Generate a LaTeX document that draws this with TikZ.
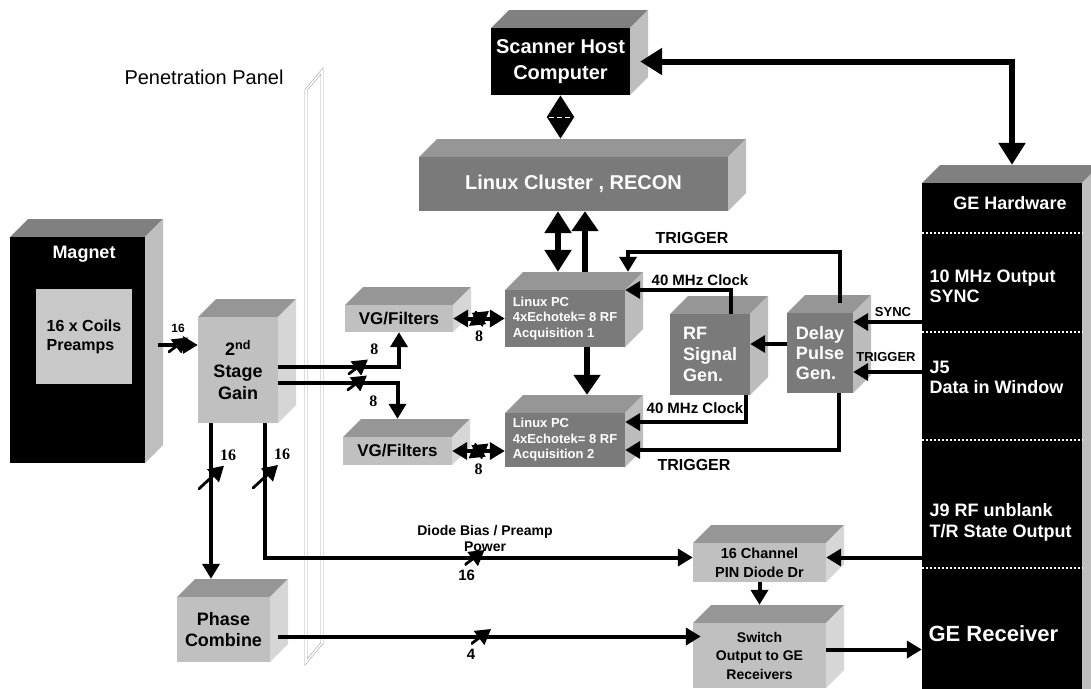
\documentclass[tikz,border=0pt]{standalone}
\usepackage{fontspec}
\setmainfont{Liberation Sans}
\newfontfamily\serf{Liberation Serif}
\usetikzlibrary{arrows.meta}
\definecolor{dkfront}{RGB}{122,122,122}
\definecolor{dktop}{RGB}{150,150,150}
\definecolor{dkside}{RGB}{188,188,188}
\definecolor{ltfront}{RGB}{192,192,192}
\definecolor{lttop}{RGB}{150,150,150}
\definecolor{ltside}{RGB}{214,214,214}
\definecolor{bkfront}{RGB}{0,0,0}
\definecolor{bktop}{RGB}{128,128,128}
\definecolor{bkside}{RGB}{190,190,190}
\definecolor{coilgray}{RGB}{200,200,200}
\newcommand{\fs}[2]{\fontsize{#1}{#2}\selectfont\bfseries}
% 3d block: name, x1, y1, x2, y2, colour set, node options, text
\newcommand{\blok}[8]{%
  \fill[#6top] (#2,#3) -- (#2+18,#3-18) -- (#4+18,#3-18) -- (#4,#3) -- cycle;
  \fill[#6side] (#4,#3) -- (#4+18,#3-18) -- (#4+18,#5-18) -- (#4,#5) -- cycle;
  \node[fill=#6front, inner sep=0pt, minimum width=#4-#2, minimum height=#5-#3, #7] (#1) at ({(#2+#4)/2},{(#3+#5)/2}) {#8};}
\tikzset{
  arr/.style={line width=4pt, -{Triangle[length=15pt,width=17pt]}},
  arrs/.style={line width=4pt, {Triangle[length=15pt,width=17pt]}-{Triangle[length=15pt,width=17pt]}},
  big/.style={line width=6pt, -{Triangle[length=20pt,width=26pt]}},
  bigs/.style={line width=6pt, {Triangle[length=22pt,width=26pt]}-{Triangle[length=22pt,width=26pt]}},
  bus/.style={inner sep=0pt, minimum width=20pt, minimum height=15pt,
    path picture={\draw[line width=2.8pt] (path picture bounding box.south west) -- (path picture bounding box.north east);}},
  busv/.style={bus, minimum width=26pt, minimum height=24pt},
  num/.style={font=\serf\bfseries\fontsize{16}{16}\selectfont, inner sep=1pt},
  snum/.style={font=\fs{15}{15}, inner sep=1pt},
  dots/.style={white, line width=1.5pt, dash pattern=on 2pt off 2pt},
  panel/.style={draw=gray!70, line width=0.6pt, double=white, double distance=1.6pt}
}
\begin{document}
\begin{tikzpicture}[x=1pt, y=-1pt, line join=miter]
\useasboundingbox (0,0) rectangle (1091,688);
\fill[white] (0,0) rectangle (1091,688);
\clip (0,0) rectangle (1091,688);
% penetration panel
\node[font=\fontsize{20}{22}\selectfont] (pen) at (204,77) {Penetration Panel};
\draw[panel] (302,107) -- (302,662);
\draw[panel] (306,90) -- (306,662) -- (322,643) -- (322,71) -- cycle;
% blocks
\blok{scan}{491}{28}{630}{95}{bk}{text=white, font=\fs{20}{26}, align=center}{Scanner Host\\Computer}
\blok{clus}{419}{157}{728}{211}{dk}{text=white, font=\fs{20}{22}}{Linux Cluster , RECON}
\blok{ge}{922}{183}{1082}{700}{bk}{}{}
\blok{mag}{10}{237}{145}{463}{bk}{}{}
\blok{gain}{198}{317}{278}{423}{lt}{font=\fs{18}{22}, align=center}{2\textsuperscript{nd}\\Stage\\Gain}
\blok{vg1}{345}{305}{453}{332}{lt}{font=\fs{17}{19}}{VG/Filters}
\blok{vg2}{343}{437}{452}{465}{lt}{font=\fs{17}{19}}{VG/Filters}
\blok{pc1}{505}{290}{625}{347}{dk}{text=white, font=\fs{13}{15.5}, align=left}{Linux PC\\4xEchotek= 8 RF\\Acquisition 1}
\blok{pc2}{505}{413}{625}{467}{dk}{text=white, font=\fs{13}{15.5}, align=left}{Linux PC\\4xEchotek= 8 RF\\Acquisition 2}
\blok{rf}{670}{314}{750}{395}{dk}{text=white, font=\fs{18}{21}, align=left}{RF\\Signal\\Gen.}
\blok{dly}{787}{313}{853}{393}{dk}{text=white, font=\fs{18}{20}, align=left}{Delay\\Pulse\\Gen.}
\blok{phase}{177}{597}{270}{662}{lt}{font=\fs{18}{21}, align=center}{Phase\\Combine}
\blok{pin}{693}{543}{826}{582}{lt}{font=\fs{14.5}{19}, align=center}{16 Channel\\PIN Diode Dr}
\blok{sw}{693}{623}{826}{688}{lt}{font=\fs{14}{18.5}, align=center}{Switch\\Output to GE\\Receivers}
% magnet contents
\node[font=\fs{18}{20}, text=white] (magt) at (84,254) {Magnet};
\node[fill=coilgray, inner sep=0pt, minimum width=96, minimum height=95, font=\fs{16}{19}, align=left] (coil) at (84,336.5) {16 x Coils\\Preamps};
% GE hardware contents
\foreach \y in {233,332,440,568}
  \draw[dots] (ge.west |- 0,\y) -- (ge.east |- 0,\y);
\node[font=\fs{18}{20}, text=white] (geh) at (1010,203) {GE Hardware};
\node[font=\fs{18}{20}, text=white, align=left, anchor=west] (ten) at (926,286) {10 MHz Output\\SYNC};
\node[font=\fs{18}{20}, text=white, align=left, anchor=west] (jfive) at (926,377) {J5\\Data in Window};
\node[font=\fs{18}{21}, text=white, align=left, anchor=west] (jnine) at (926,522) {J9 RF unblank\\T/R State Output};
\node[font=\fs{22}{24}, text=white, anchor=west] (ger) at (925,634) {GE Receiver};
% host and cluster links
\coordinate (ct) at ([yshift=18pt]clus.north);
\draw[bigs] (scan.south) -- (scan.south |- ct);
\draw[white, line width=1.2pt, dash pattern=on 5pt off 3pt] ([shift={(-12pt,-22pt)}]scan.south) -- ([shift={(12pt,-22pt)}]scan.south);
\draw[bigs] ([xshift=10pt]scan.east) -| ([shift={(10pt,18pt)}]ge.north);
\draw[bigs] ([shift={(-7pt,18pt)}]pc1.north) -- ([xshift=-7pt]pc1.north |- clus.south);
\draw[big] ([shift={(20pt,18pt)}]pc1.north) -- ([xshift=20pt]pc1.north |- clus.south);
\draw[big] ([xshift=22pt]pc1.south) -- ([shift={(22pt,18pt)}]pc2.north);
% receive chain
\draw[arr] ([shift={(13pt,5pt)}]mag.east) -- node[bus, label={[snum, font=\fs{12}{12}]above:16}] {} ([yshift=5pt]mag.east -| gain.west);
\draw[arr] ([yshift=3pt]gain.east) -| node[pos=0.33, bus, label={[num]above right:8}] {} (vg1.south);
\draw[arr] ([yshift=-13pt]gain.east) -| node[pos=0.33, bus, label={[num]below right:8}] {} ([yshift=18pt]vg2.north);
\draw[arrs] (vg1.east) -- node[bus, label={[num]below:8}] {} (pc1.west);
\draw[arrs] (vg2.east) -- node[bus, label={[num]below:8}] {} (vg2.east -| pc2.west);
\coordinate (pt) at ([yshift=18pt]phase.north);
\draw[arr] ([xshift=-27pt]gain.south) -- node[pos=0.35, busv, label={[num, xshift=-8pt]above right:16}] {} ([xshift=-27pt]gain.south |- pt);
\draw[arr] ([xshift=27pt]gain.south) |- node[pos=0.2, busv, label={[num, xshift=-8pt]above right:16}] {} node[pos=0.745, bus, label={[snum, xshift=-8pt]below:16}] {} ([yshift=5pt]pin.west);
\node[font=\fs{14}{16}, align=center] (dbias) at (485,538) {Diode Bias / Preamp\\Power};
\draw[arr] ([shift={(8pt,-7pt)}]phase.east) -- node[pos=0.48, bus, label={[snum, xshift=-10pt]below:4}] {} ([shift={(8pt,-7pt)}]phase.east -| sw.west);
\draw[arr] (pin.south) -- ([yshift=18pt]sw.north);
\draw[arr] ([yshift=5pt]pin.east -| ge.west) -- ([yshift=5pt]pin.east);
\draw[arr] ([yshift=6pt]sw.east) -- ([yshift=6pt]sw.east -| ge.west);
% timing
\draw[arr] ([yshift=31pt]dly.east -| ge.west) -- ([yshift=31pt]dly.east);
\draw[arr] ([yshift=-19pt]dly.east -| ge.west) -- ([yshift=-19pt]dly.east);
\draw[arr] ([yshift=9pt]dly.west) -- ([yshift=9pt]dly.west -| rf.east);
\draw[arr] ([shift={(20pt,10pt)}]dly.north) -- ++(0,-51) -| ([shift={(63pt,18pt)}]pc1.north);
\draw[arr] ([xshift=21pt]rf.north) |- ([yshift=28.5pt]pc1.east);
\draw[arr] ([xshift=36pt]rf.south) |- ([yshift=18pt]pc2.east);
\draw[arr] ([xshift=19pt]dly.south) |- ([yshift=-10pt]pc2.east);
\node[font=\fs{16}{18}] (trga) at (692,238) {TRIGGER};
\node[font=\fs{15}{17}] (clka) at (700,280) {40 MHz Clock};
\node[font=\fs{15}{17}] (clkb) at (695,408) {40 MHz Clock};
\node[font=\fs{16}{18}] (trgb) at (694,465) {TRIGGER};
\node[font=\fs{13}{15}] (sync) at (893,312) {SYNC};
\node[font=\fs{13}{15}] (trgc) at (886,357) {TRIGGER};
\end{tikzpicture}
\end{document}
